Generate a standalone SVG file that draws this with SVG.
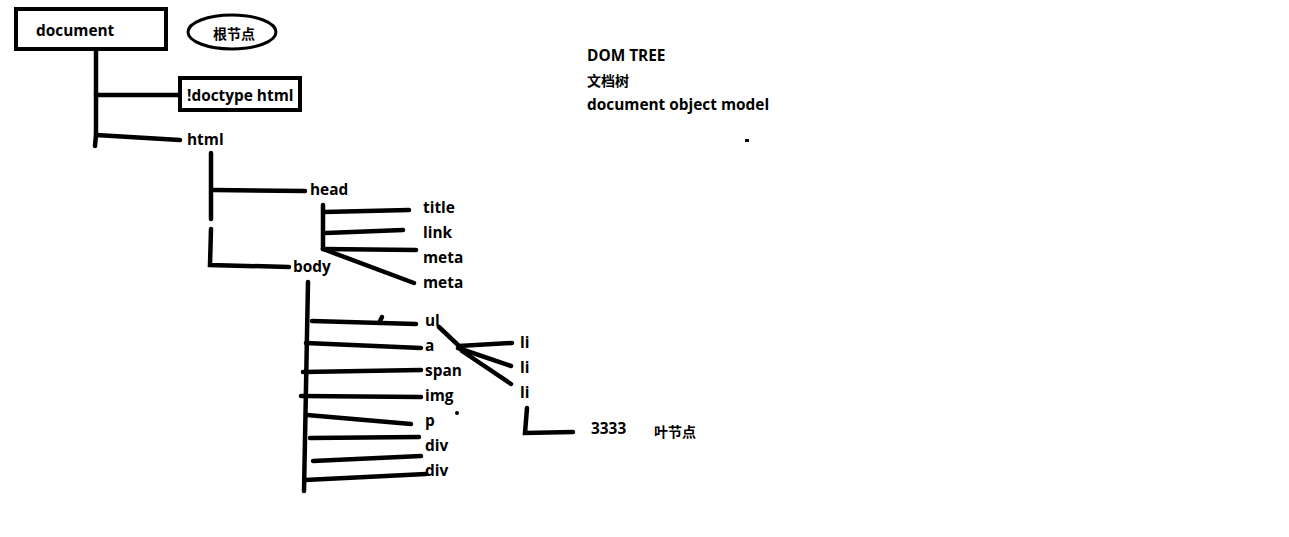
<svg xmlns="http://www.w3.org/2000/svg" width="1289" height="537" viewBox="0 0 1289 537">
<style>
text{font-family:"Open Sans","Liberation Sans","Noto Sans CJK SC",sans-serif;font-weight:bold;font-size:15.4px;fill:#000}
.cjk{font-family:"Noto Sans CJK SC",sans-serif;font-size:14px}
.ln{stroke:#000;stroke-width:4.5;stroke-linecap:round;fill:none}
.box{stroke:#000;stroke-width:4;fill:#fff}
</style>
<rect width="1289" height="537" fill="#fff"/>
<g id="connectors">
<path class="ln" d="M96,50 L96,135 L95,146"/>
<path class="ln" d="M96,95 L180,95"/>
<path class="ln" d="M96,135 L180,140"/>
<path class="ln" d="M211,153 L211,219"/>
<path class="ln" d="M211,229 L210,265 L289,267"/>
<path class="ln" d="M213,190 L305,191"/>
<path class="ln" d="M323,205 L323,249"/>
<path class="ln" d="M324,212 L409,210"/>
<path class="ln" d="M326,233 L403,230"/>
<path class="ln" d="M323,249 L416,250"/>
<path class="ln" d="M323,249 L414,283"/>
<path class="ln" d="M308,282 L304,491"/>
<path class="ln" d="M312,321 L416,324"/>
<path class="ln" d="M380,321 L382,317"/>
<path class="ln" d="M306,343 L421,348"/>
<path class="ln" d="M303,372 L421,370"/>
<path class="ln" d="M301,396 L421,397"/>
<path class="ln" d="M307,415 L411,424"/>
<path class="ln" d="M310,438 L419,437"/>
<path class="ln" d="M313,461 L421,456"/>
<path class="ln" d="M305,480 L426,474"/>
<path class="ln" d="M439,327 L459,346 L512,343"/>
<path class="ln" d="M458,348 L511,366"/>
<path class="ln" d="M462,351 L511,384"/>
<path class="ln" d="M527,408 L525,433 L573,432"/>
<circle cx="457" cy="413" r="2"/>
<rect x="745" y="139" width="4" height="3"/>
</g>
<g id="document"><rect class="box" x="16" y="9" width="150" height="40"/><text x="36" y="36">document</text></g>
<g id="root-label"><ellipse cx="232" cy="32" rx="44" ry="17" fill="none" stroke="#000" stroke-width="3"/><text class="cjk" x="213" y="39">根节点</text></g>
<g id="doctype"><rect class="box" x="180" y="78" width="120" height="32"/><text x="187" y="101">!doctype html</text></g>
<g id="html"><text x="187" y="145">html</text></g>
<g id="head"><text x="310" y="195">head</text></g>
<g id="body"><text x="293" y="272">body</text></g>
<g id="title"><text x="423" y="213">title</text></g>
<g id="link"><text x="423" y="238">link</text></g>
<g id="meta1"><text x="423" y="263">meta</text></g>
<g id="meta2"><text x="423" y="288">meta</text></g>
<g id="ul"><text x="425" y="326">ul</text></g>
<g id="a"><text x="425" y="351">a</text></g>
<g id="span"><text x="425" y="376">span</text></g>
<g id="img"><text x="425" y="401">img</text></g>
<g id="p"><text x="425" y="426">p</text></g>
<g id="div1"><text x="425" y="451">div</text></g>
<g id="div2"><text x="425" y="476">div</text></g>
<g id="li1"><text x="520" y="348">li</text></g>
<g id="li2"><text x="520" y="373">li</text></g>
<g id="li3"><text x="520" y="398">li</text></g>
<g id="leaf"><text x="591" y="434">3333</text></g>
<g id="leaf-label"><text class="cjk" x="654" y="437">叶节点</text></g>
<g id="caption"><text x="587" y="61">DOM TREE</text><text class="cjk" x="587" y="86">文档树</text><text x="587" y="110">document object model</text></g>
</svg>
